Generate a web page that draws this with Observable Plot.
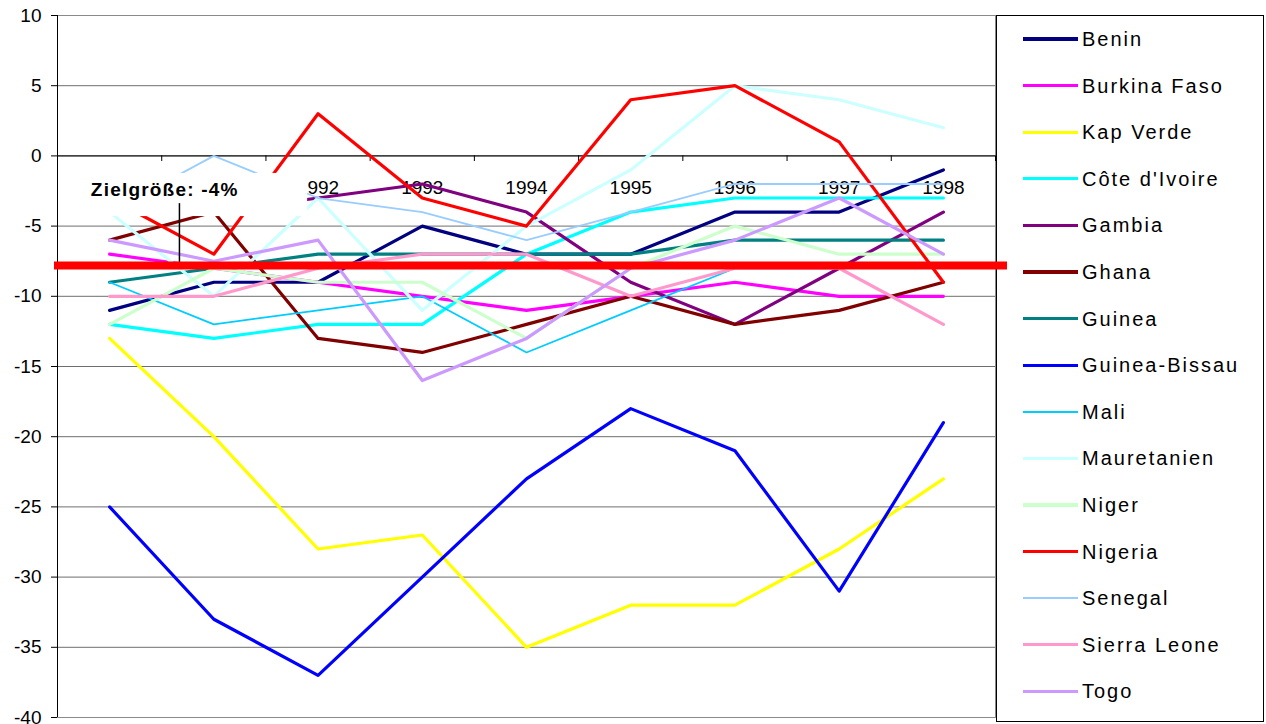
<!DOCTYPE html>
<html>
<head>
<meta charset="utf-8">
<script src="https://cdn.jsdelivr.net/npm/d3@7"></script>
<script src="https://cdn.jsdelivr.net/npm/@observablehq/plot@0.6"></script>
<style>
  body { margin: 0; background: #fff; font-family: "Liberation Sans", Arial, sans-serif; }
  #wrap { position: relative; width: 1266px; height: 724px; overflow: hidden; }
  #legend { position: absolute; left: 996px; top: 15px; width: 268px; height: 707px; border: 1px solid #000; box-sizing: border-box; }
  .row { position: absolute; left: 0; height: 24px; width: 100%; }
  .swatch { position: absolute; left: 26px; width: 55px; }
  .lab { position: absolute; left: 85px; top: 0; font-size: 20px; line-height: 24px; letter-spacing: 2px; color: #000; white-space: nowrap; }
  #chart { position: absolute; left: 0; top: 0; }
</style>
</head>
<body>
<div id="wrap">
  <div id="legend"></div>
  <div id="chart"></div>
</div>
<script>
// ---- data ----
const years = [1990, 1991, 1992, 1993, 1994, 1995, 1996, 1997, 1998];
const countries = ["Benin", "Burkina Faso", "Kap Verde", "Côte d'Ivoire", "Gambia", "Ghana", "Guinea", "Guinea-Bissau", "Mali", "Mauretanien", "Niger", "Nigeria", "Senegal", "Sierra Leone", "Togo"];
const benin        = [-11, -9, -9, -5, -7, -7, -4, -4, -1];
const burkinaFaso  = [-7, -8, -9, -10, -11, -10, -9, -10, -10];
const kapVerde     = [-13, -20, -28, -27, -35, -32, -32, -28, -23];
const coteDIvoire  = [-12, -13, -12, -12, -7, -4, -3, -3, -3];
const gambia       = [-3, -4, -3, -2, -4, -9, -12, -8, -4];
const ghana        = [-6, -4, -13, -14, -12, -10, -12, -11, -9];
const guinea       = [-9, -8, -7, -7, -7, -7, -6, -6, -6];
const guineaBissau = [-25, -33, -37, -30, -23, -18, -21, -31, -19];
const mali         = [-9, -12, -11, -10, -14, -11, -8, -8, -8];
const mauretanien  = [-4, -10, -3, -11, -5, -1, 5, 4, 2];
const niger        = [-12, -8, -9, -9, -13, -8, -5, -7, -7];
const nigeria      = [-3, -7, 3, -3, -5, 4, 5, 1, -9];
const senegal      = [-4, 0, -3, -4, -6, -4, -2, -2, -2];
const sierraLeone  = [-10, -10, -8, -7, -7, -10, -8, -8, -12];
const togo         = [-6, -7.5, -6, -16, -13, -8, -6, -3, -7];
const seriesValues = [benin, burkinaFaso, kapVerde, coteDIvoire, gambia, ghana, guinea, guineaBissau, mali, mauretanien, niger, nigeria, senegal, sierraLeone, togo];
const colors = ["#000080", "#ff00ff", "#ffff00", "#00ffff", "#800080", "#800000", "#008080", "#0000ff", "#00ccff", "#ccffff", "#ccffcc", "#ff0000", "#99ccff", "#ff99cc", "#cc99ff"];
const widths = [3.2, 3.2, 3.2, 3.2, 3.2, 3.2, 3.2, 3.2, 1.7, 3.2, 3.2, 3.2, 1.8, 3.2, 3.2];
const yTicks = [10, 5, 0, -5, -10, -15, -20, -25, -30, -35, -40];
const target = -7.8;
const targetLabel = "Zielgröße: -4%";

// annotation box (data coordinates)
const note = { x1: 1989.72, x2: 1991.9, y1: -1.25, y2: -4.32, tx: 1989.82, ty: -2.4, px: 1990.67, pyTop: -3.4 };

const rows = [];
countries.forEach((c, i) => years.forEach((yr, j) => rows.push({ country: c, year: yr, value: seriesValues[i][j] })));
const boundaries = years.map(y => y - 0.5).concat([years[years.length - 1] + 0.5]);

const lineMarks = countries.map((c, i) =>
  Plot.line(rows.filter(r => r.country === c), { x: "year", y: "value", stroke: colors[i], strokeWidth: widths[i], strokeLinejoin: "round" })
);

const chart = Plot.plot({
  width: 1266,
  height: 724,
  marginLeft: 57,
  marginRight: 271,
  marginTop: 15,
  marginBottom: 7,
  x: { domain: [1989.5, 1998.5], axis: null },
  y: { domain: [-40, 10], axis: null },
  style: { fontFamily: "'Liberation Sans', Arial, sans-serif", background: "transparent", overflow: "visible" },
  marks: [
    Plot.gridY(yTicks, { stroke: "#6e6e6e", strokeOpacity: 1 }),
    Plot.frame({ stroke: "#8a8a8a" }),
    Plot.ruleX([1989.5], { stroke: "#000" }),
    Plot.axisY(yTicks, { anchor: "left", tickSize: 6, tickPadding: 10, fontSize: 19, tickFormat: d => String(d), label: null, stroke: "#000", fill: "#000" }),
    Plot.ruleY([0], { stroke: "#000" }),
    Plot.ruleX(boundaries, { x: d => d, y1: 0, y2: -0.4, stroke: "#000" }),
    Plot.text(years, { x: d => d, y: 0, dy: 32, text: d => String(d), fontSize: 19, fill: "#000" }),
    ...lineMarks,
    Plot.rect([note], { x1: "x1", x2: "x2", y1: "y1", y2: "y2", fill: "#fff" }),
    Plot.text([note], { x: "tx", y: "ty", text: () => targetLabel, textAnchor: "start", fontSize: 19, fontWeight: "bold", fill: "#000" }),
    Plot.ruleX([note], { x: "px", y1: "pyTop", y2: () => target, stroke: "#000", strokeWidth: 1.5 }),
    Plot.ruleY([target], { stroke: "#ff0000", strokeWidth: 8, insetLeft: -3, insetRight: -12 })
  ]
});
d3.select(chart).selectAll("text").filter(function () { return this.textContent === targetLabel; }).style("letter-spacing", "1.2px");
document.getElementById("chart").appendChild(chart);

// legend
const legend = document.getElementById("legend");
countries.forEach((c, i) => {
  const row = document.createElement("div");
  row.className = "row";
  row.style.top = (23 - 12 + i * 46.6) + "px";
  const sw = document.createElement("div");
  sw.className = "swatch";
  sw.style.height = widths[i] + "px";
  sw.style.top = (12 - widths[i] / 2) + "px";
  sw.style.background = colors[i];
  const lab = document.createElement("div");
  lab.className = "lab";
  lab.textContent = c;
  row.appendChild(sw);
  row.appendChild(lab);
  legend.appendChild(row);
});
</script>
</body>
</html>
